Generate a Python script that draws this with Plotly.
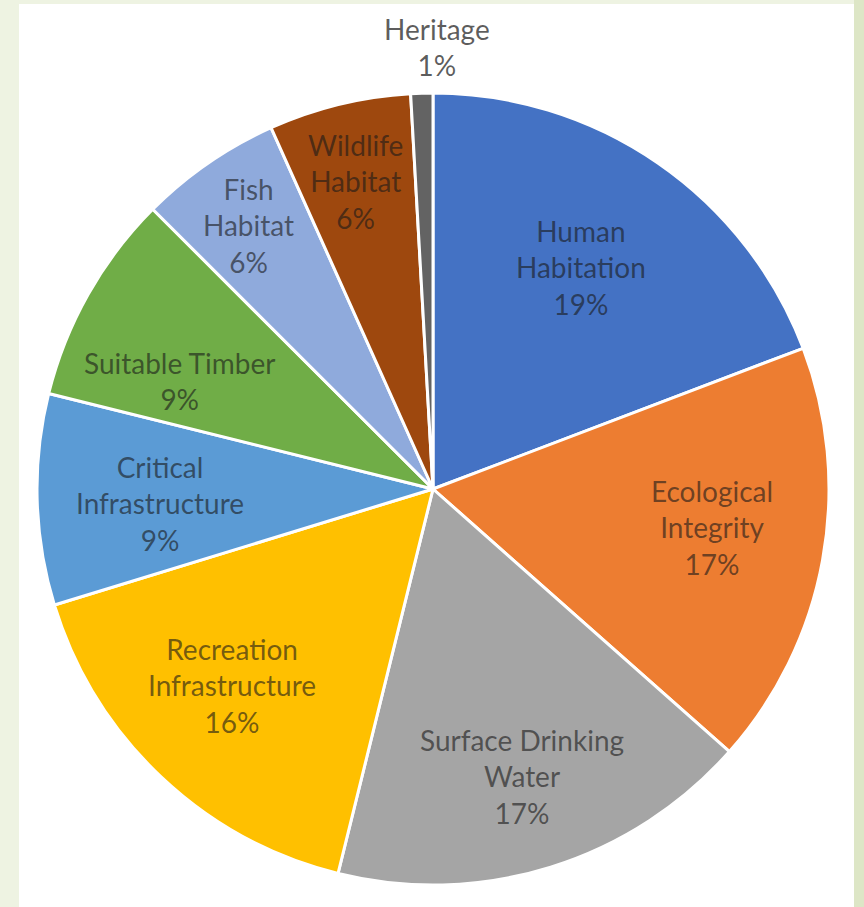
import math
import plotly.graph_objects as go

categories = ["Human Habitation", "Ecological Integrity", "Surface Drinking Water",
              "Recreation Infrastructure", "Critical Infrastructure", "Suitable Timber",
              "Fish Habitat", "Wildlife Habitat", "Heritage"]
label_lines = ["Human<br>Habitation", "Ecological<br>Integrity", "Surface Drinking<br>Water",
               "Recreation<br>Infrastructure", "Critical<br>Infrastructure", "Suitable Timber",
               "Fish<br>Habitat", "Wildlife<br>Habitat", "Heritage"]
values = [19.2, 17.3, 17.3, 16.4, 8.6, 8.6, 5.8, 5.8, 0.9]

# styles
colors = ["#4472C4", "#ED7D31", "#A5A5A5", "#FFC000", "#5B9BD5", "#70AD47",
          "#8FAADC", "#9E480E", "#636363"]
label_radius = [0.68, 0.71, 0.76, 0.71, 0.69, 0.70, 0.82, 0.80, 1.11]
label_dx = [-5, 2, 0, -8, 0, -12, 0, -3, 16]     # pixel nudges (right +)
label_dy = [0, -12, 0, -8, 7, 28, 4, 0, -3]      # pixel nudges (down +)
label_colors = ["rgba(25,25,25,0.62)"] * 8 + ["rgba(20,20,20,0.70)"]

W, H = 864, 907
cx, cy, r = 433, 489, 396

fig = go.Figure(go.Pie(
    labels=categories,
    values=values,
    sort=False,
    direction="clockwise",
    rotation=0,
    marker=dict(colors=colors, line=dict(color="white", width=3)),
    textinfo="none",
    showlegend=False,
    domain=dict(x=[(cx - r) / W, (cx + r) / W], y=[1 - (cy + r) / H, 1 - (cy - r) / H]),
    hoverinfo="label+percent",
))

total = sum(values)
annotations = []
cum = 0.0
for lab, v, fr, ddx, ddy, col in zip(label_lines, values, label_radius, label_dx, label_dy, label_colors):
    mid = (cum + v / 2) / total * 2 * math.pi
    cum += v
    px = cx + r * fr * math.sin(mid)
    py = cy - r * fr * math.cos(mid)
    pct = round(v / total * 100)
    annotations.append(dict(
        x=px / W, y=1 - py / H, xref="paper", yref="paper",
        xshift=ddx, yshift=-ddy,
        text=f"{lab}<br>{pct}%", showarrow=False, align="center",
        xanchor="center", yanchor="middle",
        font=dict(family="Lato", size=28, color=col),
    ))

fig.update_layout(
    width=W, height=H,
    margin=dict(l=0, r=0, t=0, b=0),
    paper_bgcolor="#EEF3E2",
    plot_bgcolor="white",
    annotations=annotations,
    shapes=[
        dict(type="rect", xref="paper", yref="paper", x0=854 / W, x1=1, y0=0, y1=1,
             fillcolor="#DDE6C6", line=dict(width=0), layer="below"),
        dict(type="rect", xref="paper", yref="paper", x0=19 / W, x1=854 / W,
             y0=0, y1=1 - 4 / H, fillcolor="white", line=dict(width=0), layer="below"),
    ],
)

fig.write_html("out.html", config={"displayModeBar": False},
               post_script="document.body.style.margin='0';")
